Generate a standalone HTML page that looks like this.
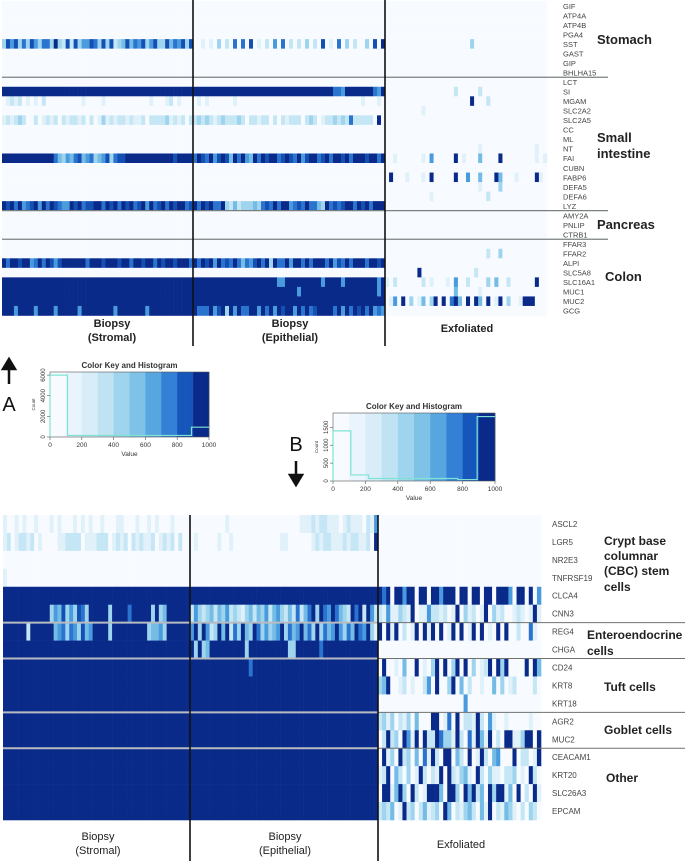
<!DOCTYPE html>
<html><head><meta charset="utf-8"><style>
html,body{margin:0;padding:0;background:#fff;}
svg{display:block;font-family:"Liberation Sans",sans-serif;}
</style></head><body>
<svg id="fig" width="685" height="861" viewBox="0 0 685 861" xmlns="http://www.w3.org/2000/svg"></svg>
<script>
const NS='http://www.w3.org/2000/svg';
const svg=document.getElementById('fig');
const palette=['#f7fbff','#e1f1fa','#c5e6f5','#9fd4ee','#74bce6','#4a9bde','#2a74d0','#1450b4','#0a2a8a'];

// ---------- Panel A data ----------
const genesA=['GIF','ATP4A','ATP4B','PGA4','SST','GAST','GIP','BHLHA15','LCT','SI','MGAM','SLC2A2','SLC2A5','CC','ML','NT','FAI','CUBN','FABP6','DEFA5','DEFA6','LYZ','AMY2A','PNLIP','CTRB1','FFAR3','FFAR2','ALPI','SLC5A8','SLC16A1','MUC1','MUC2','GCG'];
const strA=['0','0','0','0','37573637 53663832 72735576 37372347 46573573 37465737','0','0','0',
'0','8','01212010 10200000 00001000 01000000 00000100 01201000','0','12123200 20121202 12212020 13121221 21120222 23121202','0','0','0',
'88888888 88888643 54674563 45736778 88888888 88878888','0','0','0','0','87868567 85868765 58786778 86878687 86785867 86878867',
'0','0','0','0','0','86887885 68687578 88888688 87888788 68878868 78878886','0','8','8','8','88858888 58888588 88858888 88885888 88885888 88888888'];
const epiA=['0','0','0','0','00101030 20606070 10205060 20203020 70106030 20030708','0','0','0',
'0','88888888 88888888 88888888 88888888 88866588 88888658','01010000 00100000 00000000 00000000 00000000 00100010','0','23232123 22232022 12202021 22202320 12232326 22222080','0','0','0',
'68768578 74868548 68788678 76857886 78688786 88878868','0','0','0','0','86878668 32423334 36768688 56768664 38676788 68786888',
'0','0','0','0','0','86878586 76864657 86838668 58868688 86857686 88868878','0','88888888 88888888 88888558 88888888 58888588 88888858','88888888 88888888 88888888 88588888 88888888 88888858','8','86668578 38586688 58685878 85868678 88868586 87868565'];
const exoA=['0','0','0','0','00000000 00000000 00000300 00000000 00000000','0','0','0',
'0','00000000 00000000 02000002 00000000 00000000','00000000 00000000 00000800 02000000 00000000','00000000 01000000 00000000 00000000 00000000','0','0','0','00000000 00000000 00000001 00000000 00000100',
'00100000 01050000 08010004 00008000 00000101','0','08000100 01080000 08005004 00084000 10000810','00000000 00000000 00000001 00003000 00000000','00000000 00010000 00000000 02000000 00000000','0',
'0','0','0','0','00000000 00000000 00000000 02003000 00000000','0','00000000 80000000 00000020 00000000 00000000','10200000 02010001 05002000 03040020 00000800','00000000 00000000 04000001 00000000 00000000','01508030 14038080 68408084 08018030 01888000','0'];

// ---------- Panel B data ----------
const genesB=['ASCL2','LGR5','NR2E3','TNFRSF19','CLCA4','CNN3','REG4','CHGA','CD24','KRT8','KRT18','AGR2','MUC2','CEACAM1','KRT20','SLC26A3','EPCAM'];
const strB=['10010100 10001010 00101010 01000110 00100101 00010000','12012212 01000011 22220111 22201212 02121120 12120200','0','10000000 00000000 00000000 00000000 00000000 00000000','8',
'88888888 88883547 35376388 88838888 68888838 34888888','88888828 88888456 36537458 88838888 88888344 53888888','8','8','8','8','8','8','8','8','8','8'];
const epiB=['00000000 01000000 00000000 00001112 12211101 21110215','01000001 00100000 00000001 10000001 21221112 12211208','0','0','8',
'25323424 35232134 24352453 24262468 38658643 28682852','58385238 48263843 86353458 36458463 83645853 64865831','83834888 88888838 88888888 83388888 86888888 88888888','88888888 88888886 88888888 88888888 88888888 88888888','8','8','8','8','8','8','8','8'];
const exoB=['0','0','0','0','86808858 80880885 88808808 80880888 50880805','21511321 80115221 20180312 01803120 01210181','80818020 18081808 01808018 08010808 00200610','0',
'08001040 08010380 80380803 01280838 00008084','34800120 10025080 03804020 01004030 12000020','00000000 00000000 00000500 00000000 00000000','23130213 04000880 16080221 82051001 00000100','02823085 18082286 33182061 84180208 81138808',
'08130823 04061820 88042080 18204500 08022018','12804203 01820218 08213410 82031102 23010820','08814830 82018884 08830848 24083881 40802081','23240182 30241230 84021342 04180214 31020320'];

// ---------- Colour key histograms ----------
const keyTicks=[0,200,400,600,800,1000];
const histBins=[0,110,220,330,440,550,660,770,890,1000];
const histA=[6000,150,150,150,150,150,150,150,950];
const histATicks=[0,2000,4000,6000];
const histB=[1400,170,70,70,70,70,70,40,1800];
const histBTicks=[0,500,1000,1500];

function el(tag,attrs,parent){const e=document.createElementNS(NS,tag);for(const k in attrs)e.setAttribute(k,attrs[k]);(parent||svg).appendChild(e);return e;}
function txt(s,attrs,parent){const e=el('text',attrs,parent);e.textContent=s;return e;}
function expand(s,n){s=s.replace(/ /g,'');if(s.length===1)return s.repeat(n);return s;}

function drawGroup(g,rows,x0,x1,y0,pitch,ncol,name){
  const w=(x1-x0)/ncol;
  rows.forEach((r,ri)=>{
    const s=expand(r,ncol);
    for(let c=0;c<ncol;c++){
      const v=+s[c]||0;
      const rc=el('rect',{x:(x0+c*w).toFixed(2),y:(y0+ri*pitch).toFixed(2),width:(w+0.3).toFixed(2),height:(pitch+0.3).toFixed(2),fill:palette[v]},g);
      
      
    }
  });
}

// Panel A
const gA=el('g',{});


const yA0=1,pA=9.53;
drawGroup(gA,strA,2,193,yA0,pA,48,'stromal-a');
drawGroup(gA,epiA,193,385,yA0,pA,48,'epithelial-a');
drawGroup(gA,exoA,385,547,yA0,pA,40,'exfoliated-a');
genesA.forEach((g,i)=>{const t=txt(g,{x:563,y:(yA0+pA*i+pA/2+3).toFixed(1),'font-size':7.5,fill:'#444'});});
[8,22,25].forEach(k=>{const l=el('line',{x1:2,x2:608,y1:yA0+pA*k,y2:yA0+pA*k,stroke:'#7a8080','stroke-width':1.2});});
[193,385].forEach(x=>{const l=el('line',{x1:x,x2:x,y1:0,y2:346,stroke:'#111','stroke-width':1.6});});
[['Stomach',597,44],['Small',597,142],['intestine',597,158],['Pancreas',597,229],['Colon',605,281]].forEach(a=>{const t=txt(a[0],{x:a[1],y:a[2],'font-size':13,'font-weight':'bold',fill:'#222'});});
[['Biopsy',112,327],['(Stromal)',112,341],['Biopsy',290,327],['(Epithelial)',290,341],['Exfoliated',467,332]].forEach(a=>{const t=txt(a[0],{x:a[1],y:a[2],'font-size':11,'font-weight':'bold','text-anchor':'middle',fill:'#222'});});

// Panel B
const gB=el('g',{});


const yB0=515,pB=17.94;
drawGroup(gB,strB,3,190,yB0,pB,48,'stromal-b');
drawGroup(gB,epiB,190,378,yB0,pB,48,'epithelial-b');
drawGroup(gB,exoB,378,541,yB0,pB,40,'exfoliated-b');
genesB.forEach((g,i)=>{const t=txt(g,{x:552,y:(yB0+pB*i+pB/2+3).toFixed(1),'font-size':8,fill:'#444'});});
[6,8,11,13].forEach(k=>{const y=yB0+pB*k;
  const l=el('line',{x1:3,x2:378,y1:y,y2:y,stroke:'#b8bcc0','stroke-width':2});
  const l2=el('line',{x1:378,x2:685,y1:y,y2:y,stroke:'#707070','stroke-width':1});});
[190,378].forEach(x=>{const l=el('line',{x1:x,x2:x,y1:515,y2:861,stroke:'#111','stroke-width':1.6});});
[['Crypt base',604,545],['columnar',604,560],['(CBC) stem',604,575],['cells',604,591],['Enteroendocrine',587,639],['cells',587,655],['Tuft cells',604,691],['Goblet cells',604,734],['Other',606,782]].forEach(a=>{const t=txt(a[0],{x:a[1],y:a[2],'font-size':12,'font-weight':'bold',fill:'#222'});});
[['Biopsy',98,840],['(Stromal)',98,854],['Biopsy',285,840],['(Epithelial)',285,854],['Exfoliated',461,848]].forEach(a=>{const t=txt(a[0],{x:a[1],y:a[2],'font-size':11,'text-anchor':'middle',fill:'#222'});});

// Color keys
function colorKey(name,x0,x1,y0,y1,hist,ticks,ymax){
  const g=el('g',{});
  
  
  const xs=v=>x0+(x1-x0)*v/1000, ys=v=>y1-(y1-y0)*v/ymax;
  const bands=['#f7fbff','#eaf4fc','#d8edf8','#bfe3f3','#9fd4ee','#7ec2e8','#58a6e0','#3480d6','#1656bb','#0a2a8a'];
  for(let i=0;i<20;i++){const b=el('rect',{x:xs(i*50),y:y0,width:(x1-x0)/20+0.3,height:y1-y0,fill:bands[Math.floor(i/2)]},g);}
  el('rect',{x:x0,y:y0,width:x1-x0,height:y1-y0,fill:'none',stroke:'#555','stroke-width':0.6},g);
  let d='M'+xs(0)+' '+y1;
  hist.forEach((h,i)=>{d+=' L'+xs(histBins[i])+' '+ys(h)+' L'+xs(histBins[i+1])+' '+ys(h);});
  const p=el('path',{d:d,fill:'none',stroke:'#7fe3d4','stroke-width':1.2},g);
  keyTicks.forEach(t=>{el('line',{x1:xs(t),x2:xs(t),y1:y1,y2:y1+3,stroke:'#555','stroke-width':0.6},g);txt(String(t),{x:xs(t),y:y1+10,'font-size':6.5,'text-anchor':'middle',fill:'#333'},g);});
  ticks.forEach(t=>{const y=ys(t);el('line',{x1:x0-3,x2:x0,y1:y,y2:y,stroke:'#555','stroke-width':0.6},g);txt(String(t),{x:x0-5,y:y,'font-size':6,'text-anchor':'middle',fill:'#333',transform:'rotate(-90 '+(x0-5)+' '+y+')'},g);});
  txt('Value',{x:(x0+x1)/2,y:y1+19,'font-size':6.5,'text-anchor':'middle',fill:'#333'},g);
  txt('Count',{x:x0-15,y:(y0+y1)/2,'font-size':4.5,'text-anchor':'middle',fill:'#333',transform:'rotate(-90 '+(x0-15)+' '+((y0+y1)/2)+')'},g);
  txt('Color Key and Histogram',{x:(x0+x1)/2,y:y0-4,'font-size':8,'font-weight':'bold','text-anchor':'middle',fill:'#333'},g);
}
colorKey('color-key-a',50,209,372,437,histA,histATicks,6300);
colorKey('color-key-b',333,495,413,481,histB,histBTicks,1900);

// arrows and letters
const ar=el('path',{d:'M9 384 L9 366 M3 369 L9 359 L15 369 Z',stroke:'#111','stroke-width':2.5,fill:'#111'});

const la=txt('A',{x:9,y:411,'font-size':20,'text-anchor':'middle',fill:'#111'});
const ad=el('path',{d:'M296 461 L296 478 M290 475 L296 485 L302 475 Z',stroke:'#111','stroke-width':2.5,fill:'#111'});

const lb=txt('B',{x:296,y:451,'font-size':20,'text-anchor':'middle',fill:'#111'});
</script>
</body></html>
